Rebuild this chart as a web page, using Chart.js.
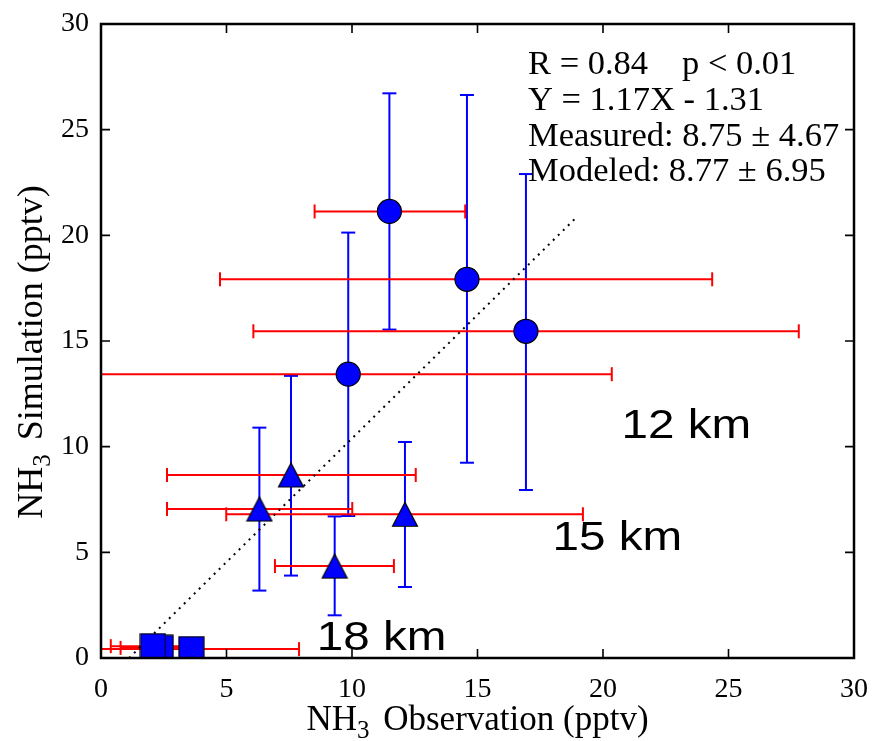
<!DOCTYPE html>
<html>
<head>
<meta charset="utf-8">
<script src="https://cdn.jsdelivr.net/npm/chart.js@4.4.1/dist/chart.umd.min.js"></script>
<style>
  html, body { margin: 0; padding: 0; background: #fff; }
</style>
</head>
<body>
<canvas id="scatterNH3" width="873" height="741"></canvas>
<script>
const serif = '"Liberation Serif", "Times New Roman", serif'
const sans = '"Liberation Sans", Arial, sans-serif'
const blue = '#0000ff'
const red = '#ff0000'

const xTicks = [0, 5, 10, 15, 20, 25, 30]
const yTicks = [0, 5, 10, 15, 20, 25, 30]

// 12 km (circles)
const obs12 = [11.49, 14.58, 16.93, 9.85]
const sim12 = [21.13, 17.92, 15.46, 13.43]
const obs12Lo = [8.51, 4.74, 6.07, -0.68]
const obs12Hi = [14.51, 24.35, 27.8, 20.35]
const sim12Lo = [15.54, 9.24, 7.95, 6.72]
const sim12Hi = [26.72, 26.64, 22.9, 20.13]

// 15 km (triangles)
const obs15 = [6.31, 7.57, 9.31, 12.11]
const sim15 = [7.05, 8.66, 4.35, 6.80]
const obs15Lo = [2.63, 2.63, 6.93, 4.99]
const obs15Hi = [10.01, 12.54, 11.67, 19.2]
const sim15Lo = [3.19, 3.90, 2.02, 3.36]
const sim15Hi = [10.90, 13.35, 6.70, 10.22]

// 18 km (squares)
const obs18 = [2.38, 2.07, 3.6]
const sim18 = [0.48, 0.56, 0.42]
const obs18Lo = [0.78, 0.39, -0.69]
const obs18Hi = [3.98, 3.75, 7.89]
const sim18Lo = [0.30, 0.35, 0.25]
const sim18Hi = [0.65, 0.75, 0.60]

// regression line Y = 1.17X - 1.31
const fitX = [1.12, 19.0]
const fitY = [0, 20.92]

const statLines = ['R = 0.84', 'Y = 1.17X - 1.31', 'Measured: 8.75 \u00b1 4.67', 'Modeled: 8.77 \u00b1 6.95']
const statP = 'p < 0.01'
const kmText = ['12 km', '15 km', '18 km']
const kmAnchor = { x: [20.74, 17.99, 8.6], y: [10.41, 5.11, 0.38] }

// matplotlib-like markers
const triMarker = document.createElement('canvas')
triMarker.width = 28
triMarker.height = 27
{
  const c = triMarker.getContext('2d')
  c.beginPath()
  c.moveTo(14, 1.5)
  c.lineTo(1.5, 25.5)
  c.lineTo(26.5, 25.5)
  c.closePath()
  c.fillStyle = blue
  c.fill()
  c.lineWidth = 1.2
  c.strokeStyle = '#000'
  c.stroke()
}
const sqMarker = document.createElement('canvas')
sqMarker.width = 27
sqMarker.height = 27
{
  const c = sqMarker.getContext('2d')
  c.fillStyle = blue
  c.fillRect(1, 1, 25, 25)
  c.lineWidth = 1.2
  c.strokeStyle = '#000'
  c.strokeRect(1, 1, 25, 25)
}

const toPoints = (xs, ys) => xs.map((x, i) => ({ x: x, y: ys[i] }))

const errorBars = []
const addErrors = (xs, ys, lo, hi, horizontal) => {
  xs.forEach((x, i) => {
    errorBars.push({
      data: horizontal
        ? [{ x: lo[i], y: ys[i] }, { x: hi[i], y: ys[i] }]
        : [{ x: x, y: lo[i] }, { x: x, y: hi[i] }],
      showLine: true,
      borderColor: horizontal ? red : blue,
      borderWidth: 2,
      pointStyle: 'line',
      pointRadius: 7,
      pointRotation: horizontal ? 90 : 0,
      pointBorderColor: horizontal ? red : blue,
      pointBorderWidth: 2,
      clip: 0,
      order: horizontal ? 2 : 3
    })
  })
}
addErrors(obs12, sim12, sim12Lo, sim12Hi, false)
addErrors(obs15, sim15, sim15Lo, sim15Hi, false)
addErrors(obs18, sim18, sim18Lo, sim18Hi, false)
addErrors(obs12, sim12, obs12Lo, obs12Hi, true)
addErrors(obs15, sim15, obs15Lo, obs15Hi, true)
addErrors(obs18, sim18, obs18Lo, obs18Hi, true)

const markerSets = [
  {
    label: '12 km',
    data: toPoints(obs12, sim12),
    pointStyle: 'circle',
    pointRadius: 12,
    pointBackgroundColor: blue,
    pointBorderColor: '#000',
    pointBorderWidth: 1.2,
    clip: 0,
    order: 0
  },
  {
    label: '15 km',
    data: toPoints(obs15, sim15),
    pointStyle: triMarker,
    pointRadius: 12,
    clip: 0,
    order: 0
  },
  {
    label: '18 km',
    data: toPoints(obs18, sim18),
    pointStyle: sqMarker,
    pointRadius: 12,
    clip: 0,
    order: 0
  }
]

const fitSet = {
  label: 'fit',
  data: toPoints(fitX, fitY),
  showLine: true,
  borderColor: '#000',
  borderWidth: 2,
  borderDash: [2, 5],
  pointRadius: 0,
  clip: 0,
  order: 1
}

// frame and inward ticks on all four sides
const frameTicks = {
  id: 'frameTicks',
  afterDatasetsDraw(chart) {
    const { ctx, chartArea: a, scales: { x, y } } = chart
    ctx.save()
    ctx.strokeStyle = '#000'
    ctx.lineWidth = 1.6
    ctx.beginPath()
    xTicks.forEach(v => {
      const px = x.getPixelForValue(v)
      ctx.moveTo(px, a.bottom); ctx.lineTo(px, a.bottom - 9)
      ctx.moveTo(px, a.top); ctx.lineTo(px, a.top + 9)
    })
    yTicks.forEach(v => {
      const py = y.getPixelForValue(v)
      ctx.moveTo(a.left, py); ctx.lineTo(a.left + 9, py)
      ctx.moveTo(a.right, py); ctx.lineTo(a.right - 9, py)
    })
    ctx.stroke()
    ctx.lineWidth = 2.5
    ctx.strokeRect(a.left, a.top, a.right - a.left, a.bottom - a.top)
    ctx.restore()
  }
}

const drawParts = (ctx, parts, x, y) => {
  let total = 0
  parts.forEach(p => { ctx.font = p.font; total += ctx.measureText(p.t).width + (p.gap || 0) })
  let cx = x - total / 2
  parts.forEach(p => {
    ctx.font = p.font
    ctx.fillText(p.t, cx, y + p.dy)
    cx += ctx.measureText(p.t).width + (p.gap || 0)
  })
}

const texts = {
  id: 'texts',
  afterDraw(chart) {
    const { ctx, chartArea: a, scales: { x, y } } = chart
    ctx.save()
    ctx.fillStyle = '#000'
    ctx.textAlign = 'left'
    ctx.textBaseline = 'alphabetic'

    const big = '35px ' + serif
    const small = '25px ' + serif
    drawParts(ctx, [
      { t: 'NH', font: big, dy: 0 },
      { t: '3', font: small, dy: 8, gap: 5 },
      { t: ' Observation (pptv)', font: big, dy: 0 }
    ], (a.left + a.right) / 2, 730)

    ctx.save()
    ctx.translate(42, 352)
    ctx.rotate(-Math.PI / 2)
    const bigY = '36px ' + serif
    drawParts(ctx, [
      { t: 'NH', font: bigY, dy: 0 },
      { t: '3', font: small, dy: 8, gap: 5 },
      { t: ' Simulation (pptv)', font: bigY, dy: 0 }
    ], 0, 0)
    ctx.restore()

    ctx.font = '34.5px ' + serif
    const lineY = [74, 110, 146, 181]
    statLines.forEach((s, i) => ctx.fillText(s, 528, lineY[i]))
    ctx.fillText(statP, 682, lineY[0])

    ctx.font = '40px ' + sans
    kmText.forEach((s, i) => {
      ctx.save()
      ctx.translate(x.getPixelForValue(kmAnchor.x[i]), y.getPixelForValue(kmAnchor.y[i]))
      ctx.scale(1.19, 1)
      ctx.fillText(s, 0, 0)
      ctx.restore()
    })
    ctx.restore()
  }
}

const tickFont = { family: serif, size: 28 }

// keep the plot box exactly where the reference has it
const zeroPad = scale => {
  scale.paddingLeft = 0
  scale.paddingRight = 0
  scale.paddingTop = 0
  scale.paddingBottom = 0
}

const chartNH3 = new Chart(document.getElementById('scatterNH3'), {
  type: 'scatter',
  data: { datasets: [...markerSets, fitSet, ...errorBars] },
  options: {
    responsive: false,
    animation: false,
    devicePixelRatio: 1,
    events: [],
    layout: { padding: { top: 24, right: 19, left: 0, bottom: 0 } },
    plugins: { legend: { display: false }, tooltip: { enabled: false } },
    scales: {
      x: {
        type: 'linear',
        min: 0,
        max: 30,
        grid: { display: false, drawTicks: false },
        border: { display: false },
        afterBuildTicks: scale => { scale.ticks = xTicks.map(v => ({ value: v })) },
        ticks: { font: tickFont, color: '#000', padding: 15, maxRotation: 0 },
        afterFit: scale => { scale.height = 83; zeroPad(scale) }
      },
      y: {
        type: 'linear',
        min: 0,
        max: 30,
        grid: { display: false, drawTicks: false },
        border: { display: false },
        afterBuildTicks: scale => { scale.ticks = yTicks.map(v => ({ value: v })) },
        ticks: { font: tickFont, color: '#000', padding: 12 },
        afterFit: scale => { scale.width = 101; zeroPad(scale) }
      }
    }
  },
  plugins: [frameTicks, texts]
})
</script>
</body>
</html>
